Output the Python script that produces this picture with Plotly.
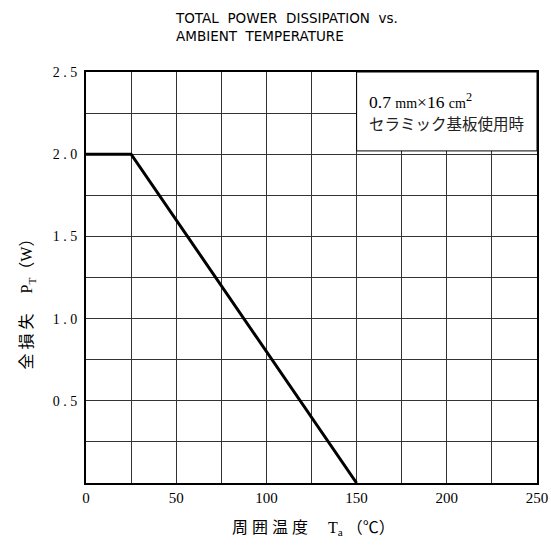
import plotly.graph_objects as go

# Data
temp_c = [0, 25, 150]
power_w = [2.0, 2.0, 0.0]

x_tick_vals = [0, 25, 50, 75, 100, 125, 150, 175, 200, 225, 250]
x_tick_text = ["0", "", "50", "", "100", "", "150", "", "200", "", "250"]
y_tick_vals = [0, 0.25, 0.5, 0.75, 1.0, 1.25, 1.5, 1.75, 2.0, 2.25, 2.5]
y_tick_text = ["", "", "0 . 5", "", "1 . 0", "", "1 . 5", "", "2 . 0", "", "2 . 5"]

title_lines = ["TOTAL  POWER  DISSIPATION  vs.", "AMBIENT  TEMPERATURE"]
note_line1 = "0.7 <span style='font-size:14px'>mm</span>×16 <span style='font-size:14px'>cm</span><sup>2</sup>"
note_line2 = "セラミック基板使用時"
x_title = "周 囲 温 度　 T<sub>a</sub> （℃）"
y_title = "全 損 失　 P<sub>T</sub>（W）"

serif = "Liberation Serif, DejaVu Serif, serif"
cjk = "Liberation Serif, Noto Sans CJK JP, serif"

fig = go.Figure()
fig.add_trace(go.Scatter(x=temp_c, y=power_w, mode="lines",
                         line=dict(color="black", width=3), showlegend=False,
                         hoverinfo="skip"))

# note box
fig.add_shape(type="rect", xref="x", yref="y", x0=150, x1=250, y0=2.02, y1=2.5,
              fillcolor="white", line=dict(color="black", width=1), layer="above")

fig.add_annotation(xref="x", yref="y", x=156, y=2.324, xanchor="left", yanchor="middle",
                   text=note_line1, showarrow=False, font=dict(family=cjk, size=17.5, color="black"))
fig.add_annotation(xref="x", yref="y", x=156, y=2.18, xanchor="left", yanchor="middle",
                   text=note_line2, showarrow=False, font=dict(family=cjk, size=15.5, color="#222"))

# title
fig.add_annotation(xref="paper", yref="paper", x=0.192, y=1.155, xanchor="left", yanchor="top",
                   text="<br>".join(title_lines), align="left", showarrow=False,
                   font=dict(family="DejaVu Sans, Liberation Sans, sans-serif", size=13.5, color="black"))

# axis titles
fig.add_annotation(xref="paper", yref="paper", x=0.505, y=-0.11, xanchor="center", yanchor="middle",
                   text=x_title, showarrow=False, font=dict(family=cjk, size=16, color="black"))
fig.add_annotation(xref="paper", yref="paper", x=-0.13, y=0.445, xanchor="center", yanchor="middle",
                   text=y_title, textangle=-90, showarrow=False, font=dict(family=cjk, size=16, color="black"))

fig.update_xaxes(range=[0, 250], tickvals=x_tick_vals, ticktext=x_tick_text,
                 showgrid=True, gridcolor="#333", gridwidth=1, zeroline=False,
                 showline=True, linecolor="black", linewidth=2, mirror=True,
                 automargin=False, fixedrange=True,
                 ticks="", tickfont=dict(family=serif, size=15, color="black"))
fig.update_yaxes(range=[0, 2.5], tickvals=y_tick_vals, ticktext=y_tick_text,
                 showgrid=True, gridcolor="#333", gridwidth=1, zeroline=False,
                 showline=True, linecolor="black", linewidth=2, mirror=True,
                 automargin=False, fixedrange=True,
                 ticks="", ticklabelstandoff=4, tickfont=dict(family=serif, size=14, color="black"))

fig.update_layout(width=551, height=546, margin=dict(l=86, r=14, t=72, b=63),
                  plot_bgcolor="white", paper_bgcolor="white")

fig.write_html("out.html", config={"displayModeBar": False},
               post_script="document.body.style.margin='0';document.body.style.overflow='hidden';")
